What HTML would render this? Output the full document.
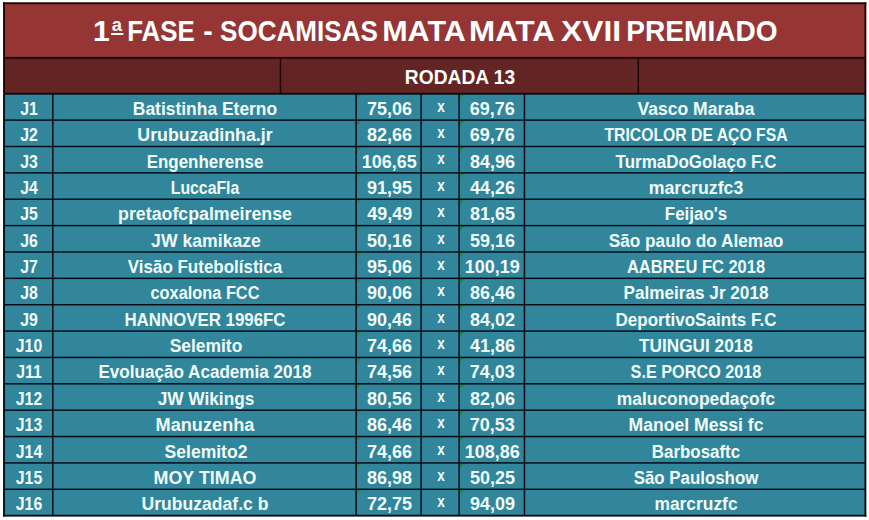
<!DOCTYPE html>
<html><head><meta charset="utf-8"><style>
html,body{margin:0;padding:0;background:#fff}
body{width:869px;height:520px;overflow:hidden;position:relative}
svg{position:absolute;left:0;top:0}
.ord{display:inline-block;font-size:18px;line-height:16px;vertical-align:10px;border-bottom:2px solid #fff;padding:0 1px 0 1px;margin-left:1px;margin-right:0px}
.t{position:absolute;white-space:nowrap;text-align:center;font-family:"Liberation Sans",sans-serif;font-weight:bold;color:#fff;transform-origin:50% 50%}
</style></head><body>
<svg width="869" height="520" viewBox="0 0 869 520">
<rect x="4.00" y="3.20" width="861.40" height="54.60" fill="#963634"/>
<rect x="4.00" y="57.80" width="861.40" height="35.95" fill="#632523"/>
<rect x="4.00" y="93.75" width="861.40" height="421.92" fill="#31869B"/>
<path d="M356.45 94.05 h5.5 L356.45 99.55 Z" fill="#1e8a3a" opacity="0.8"/>
<path d="M459.45 94.05 h5.5 L459.45 99.55 Z" fill="#1e8a3a" opacity="0.8"/>
<path d="M356.45 120.42 h5.5 L356.45 125.92 Z" fill="#1e8a3a" opacity="0.8"/>
<path d="M459.45 120.42 h5.5 L459.45 125.92 Z" fill="#1e8a3a" opacity="0.8"/>
<path d="M356.45 146.79 h5.5 L356.45 152.29 Z" fill="#1e8a3a" opacity="0.8"/>
<path d="M459.45 146.79 h5.5 L459.45 152.29 Z" fill="#1e8a3a" opacity="0.8"/>
<path d="M356.45 173.16 h5.5 L356.45 178.66 Z" fill="#1e8a3a" opacity="0.8"/>
<path d="M459.45 173.16 h5.5 L459.45 178.66 Z" fill="#1e8a3a" opacity="0.8"/>
<path d="M356.45 199.53 h5.5 L356.45 205.03 Z" fill="#1e8a3a" opacity="0.8"/>
<path d="M459.45 199.53 h5.5 L459.45 205.03 Z" fill="#1e8a3a" opacity="0.8"/>
<path d="M356.45 225.90 h5.5 L356.45 231.40 Z" fill="#1e8a3a" opacity="0.8"/>
<path d="M459.45 225.90 h5.5 L459.45 231.40 Z" fill="#1e8a3a" opacity="0.8"/>
<path d="M356.45 252.27 h5.5 L356.45 257.77 Z" fill="#1e8a3a" opacity="0.8"/>
<path d="M459.45 252.27 h5.5 L459.45 257.77 Z" fill="#1e8a3a" opacity="0.8"/>
<path d="M356.45 278.64 h5.5 L356.45 284.14 Z" fill="#1e8a3a" opacity="0.8"/>
<path d="M459.45 278.64 h5.5 L459.45 284.14 Z" fill="#1e8a3a" opacity="0.8"/>
<path d="M356.45 305.01 h5.5 L356.45 310.51 Z" fill="#1e8a3a" opacity="0.8"/>
<path d="M459.45 305.01 h5.5 L459.45 310.51 Z" fill="#1e8a3a" opacity="0.8"/>
<path d="M356.45 331.38 h5.5 L356.45 336.88 Z" fill="#1e8a3a" opacity="0.8"/>
<path d="M459.45 331.38 h5.5 L459.45 336.88 Z" fill="#1e8a3a" opacity="0.8"/>
<path d="M356.45 357.75 h5.5 L356.45 363.25 Z" fill="#1e8a3a" opacity="0.8"/>
<path d="M459.45 357.75 h5.5 L459.45 363.25 Z" fill="#1e8a3a" opacity="0.8"/>
<path d="M356.45 384.12 h5.5 L356.45 389.62 Z" fill="#1e8a3a" opacity="0.8"/>
<path d="M459.45 384.12 h5.5 L459.45 389.62 Z" fill="#1e8a3a" opacity="0.8"/>
<path d="M356.45 410.49 h5.5 L356.45 415.99 Z" fill="#1e8a3a" opacity="0.8"/>
<path d="M459.45 410.49 h5.5 L459.45 415.99 Z" fill="#1e8a3a" opacity="0.8"/>
<path d="M356.45 436.86 h5.5 L356.45 442.36 Z" fill="#1e8a3a" opacity="0.8"/>
<path d="M459.45 436.86 h5.5 L459.45 442.36 Z" fill="#1e8a3a" opacity="0.8"/>
<path d="M356.45 463.23 h5.5 L356.45 468.73 Z" fill="#1e8a3a" opacity="0.8"/>
<path d="M459.45 463.23 h5.5 L459.45 468.73 Z" fill="#1e8a3a" opacity="0.8"/>
<path d="M356.45 489.60 h5.5 L356.45 495.10 Z" fill="#1e8a3a" opacity="0.8"/>
<path d="M459.45 489.60 h5.5 L459.45 495.10 Z" fill="#1e8a3a" opacity="0.8"/>
<rect x="4.00" y="119.40" width="861.40" height="1.45" fill="#020a14"/>
<rect x="4.00" y="145.77" width="861.40" height="1.45" fill="#020a14"/>
<rect x="4.00" y="172.14" width="861.40" height="1.45" fill="#020a14"/>
<rect x="4.00" y="198.51" width="861.40" height="1.45" fill="#020a14"/>
<rect x="4.00" y="224.88" width="861.40" height="1.45" fill="#020a14"/>
<rect x="4.00" y="251.25" width="861.40" height="1.45" fill="#020a14"/>
<rect x="4.00" y="277.62" width="861.40" height="1.45" fill="#020a14"/>
<rect x="4.00" y="303.99" width="861.40" height="1.45" fill="#020a14"/>
<rect x="4.00" y="330.36" width="861.40" height="1.45" fill="#020a14"/>
<rect x="4.00" y="356.72" width="861.40" height="1.45" fill="#020a14"/>
<rect x="4.00" y="383.09" width="861.40" height="1.45" fill="#020a14"/>
<rect x="4.00" y="409.46" width="861.40" height="1.45" fill="#020a14"/>
<rect x="4.00" y="435.83" width="861.40" height="1.45" fill="#020a14"/>
<rect x="4.00" y="462.20" width="861.40" height="1.45" fill="#020a14"/>
<rect x="4.00" y="488.57" width="861.40" height="1.45" fill="#020a14"/>
<rect x="4.00" y="92.85" width="861.40" height="1.80" fill="#020a14"/>
<rect x="4.00" y="56.90" width="861.40" height="1.80" fill="#1c0304"/>
<rect x="52.07" y="93.75" width="1.45" height="421.92" fill="#020a14"/>
<rect x="355.42" y="93.75" width="1.45" height="421.92" fill="#020a14"/>
<rect x="420.42" y="93.75" width="1.45" height="421.92" fill="#020a14"/>
<rect x="458.42" y="93.75" width="1.45" height="421.92" fill="#020a14"/>
<rect x="523.73" y="93.75" width="1.45" height="421.92" fill="#020a14"/>
<rect x="279.77" y="57.80" width="1.45" height="35.95" fill="#1c0304"/>
<rect x="637.57" y="57.80" width="1.45" height="35.95" fill="#1c0304"/>
<rect x="3.08" y="2.28" width="863.25" height="1.85" fill="#1c0304"/>
<rect x="3.08" y="2.28" width="1.85" height="91.47" fill="#1c0304"/>
<rect x="864.48" y="2.28" width="1.85" height="91.47" fill="#1c0304"/>
<rect x="3.08" y="93.75" width="1.85" height="422.85" fill="#020a14"/>
<rect x="864.48" y="93.75" width="1.85" height="422.85" fill="#020a14"/>
<rect x="3.08" y="514.75" width="863.25" height="1.85" fill="#020a14"/>
</svg>
<div class="t" style="left:-392.00px;top:16.03px;width:1000px;font-size:29.5px;line-height:29.5px;transform:scaleX(1.0222)">1<span class="ord">a</span></div>
<div class="t" style="left:-339.26px;top:16.03px;width:1000px;font-size:29.5px;line-height:29.5px;transform:scaleX(0.877)">FASE</div>
<div class="t" style="left:-292.43px;top:16.03px;width:1000px;font-size:29.5px;line-height:29.5px;transform:scaleX(0.9625)">-</div>
<div class="t" style="left:-200.70px;top:16.03px;width:1000px;font-size:29.5px;line-height:29.5px;transform:scaleX(0.8842)">SOCAMISAS</div>
<div class="t" style="left:-76.26px;top:16.03px;width:1000px;font-size:29.5px;line-height:29.5px;transform:scaleX(1.0346)">MATA</div>
<div class="t" style="left:12.38px;top:16.03px;width:1000px;font-size:29.5px;line-height:29.5px;transform:scaleX(1.0615)">MATA</div>
<div class="t" style="left:90.50px;top:16.03px;width:1000px;font-size:29.5px;line-height:29.5px;transform:scaleX(1.0792)">XVII</div>
<div class="t" style="left:201.52px;top:16.03px;width:1000px;font-size:29.5px;line-height:29.5px;transform:scaleX(0.9513)">PREMIADO</div>
<div class="t" style="left:-40.15px;top:68.09px;width:1000px;font-size:19.5px;line-height:19.5px;transform:scaleX(0.985)">RODADA 13</div>
<div class="t" style="left:-471.18px;top:99.78px;width:1000px;font-size:18.0px;line-height:18.0px;transform:scaleX(0.88);color:#f0fcfc">J1</div>
<div class="t" style="left:-294.73px;top:99.78px;width:1000px;font-size:18.0px;line-height:18.0px;transform:scaleX(0.9687);color:#f0fcfc">Batistinha Eterno</div>
<div class="t" style="left:-110.60px;top:99.78px;width:1000px;font-size:18.0px;line-height:18.0px;transform:scaleX(1.0);color:#f0fcfc">75,06</div>
<div class="t" style="left:-7.70px;top:99.78px;width:1000px;font-size:18.0px;line-height:18.0px;transform:scaleX(1.0);color:#f0fcfc">69,76</div>
<div class="t" style="left:195.69px;top:99.78px;width:1000px;font-size:18.0px;line-height:18.0px;transform:scaleX(0.975);color:#f0fcfc">Vasco Maraba</div>
<div class="t" style="left:-59.30px;top:97.75px;width:1000px;font-size:16.5px;line-height:16.5px;transform:scaleX(0.82);color:#f0fcfc">x</div>
<div class="t" style="left:-471.07px;top:126.15px;width:1000px;font-size:18.0px;line-height:18.0px;transform:scaleX(0.88);color:#f0fcfc">J2</div>
<div class="t" style="left:-294.87px;top:126.15px;width:1000px;font-size:18.0px;line-height:18.0px;transform:scaleX(0.9871);color:#f0fcfc">Urubuzadinha.jr</div>
<div class="t" style="left:-110.48px;top:126.15px;width:1000px;font-size:18.0px;line-height:18.0px;transform:scaleX(1.0);color:#f0fcfc">82,66</div>
<div class="t" style="left:-7.70px;top:126.15px;width:1000px;font-size:18.0px;line-height:18.0px;transform:scaleX(1.0);color:#f0fcfc">69,76</div>
<div class="t" style="left:196.05px;top:126.15px;width:1000px;font-size:18.0px;line-height:18.0px;transform:scaleX(0.8748);color:#f0fcfc">TRICOLOR DE AÇO FSA</div>
<div class="t" style="left:-59.30px;top:124.12px;width:1000px;font-size:16.5px;line-height:16.5px;transform:scaleX(0.82);color:#f0fcfc">x</div>
<div class="t" style="left:-471.07px;top:152.52px;width:1000px;font-size:18.0px;line-height:18.0px;transform:scaleX(0.88);color:#f0fcfc">J3</div>
<div class="t" style="left:-294.83px;top:152.52px;width:1000px;font-size:18.0px;line-height:18.0px;transform:scaleX(0.9407);color:#f0fcfc">Engenherense</div>
<div class="t" style="left:-110.72px;top:152.52px;width:1000px;font-size:18.0px;line-height:18.0px;transform:scaleX(1.0);color:#f0fcfc">106,65</div>
<div class="t" style="left:-7.58px;top:152.52px;width:1000px;font-size:18.0px;line-height:18.0px;transform:scaleX(1.0);color:#f0fcfc">84,96</div>
<div class="t" style="left:195.99px;top:152.52px;width:1000px;font-size:18.0px;line-height:18.0px;transform:scaleX(0.9424);color:#f0fcfc">TurmaDoGolaço F.C</div>
<div class="t" style="left:-59.30px;top:150.49px;width:1000px;font-size:16.5px;line-height:16.5px;transform:scaleX(0.82);color:#f0fcfc">x</div>
<div class="t" style="left:-471.40px;top:178.89px;width:1000px;font-size:18.0px;line-height:18.0px;transform:scaleX(0.88);color:#f0fcfc">J4</div>
<div class="t" style="left:-295.14px;top:178.89px;width:1000px;font-size:18.0px;line-height:18.0px;transform:scaleX(0.8782);color:#f0fcfc">LuccaFla</div>
<div class="t" style="left:-110.48px;top:178.89px;width:1000px;font-size:18.0px;line-height:18.0px;transform:scaleX(1.0);color:#f0fcfc">91,95</div>
<div class="t" style="left:-7.45px;top:178.89px;width:1000px;font-size:18.0px;line-height:18.0px;transform:scaleX(1.0);color:#f0fcfc">44,26</div>
<div class="t" style="left:195.55px;top:178.89px;width:1000px;font-size:18.0px;line-height:18.0px;transform:scaleX(0.9846);color:#f0fcfc">marcruzfc3</div>
<div class="t" style="left:-59.30px;top:176.86px;width:1000px;font-size:16.5px;line-height:16.5px;transform:scaleX(0.82);color:#f0fcfc">x</div>
<div class="t" style="left:-471.18px;top:205.26px;width:1000px;font-size:18.0px;line-height:18.0px;transform:scaleX(0.88);color:#f0fcfc">J5</div>
<div class="t" style="left:-294.83px;top:205.26px;width:1000px;font-size:18.0px;line-height:18.0px;transform:scaleX(0.9871);color:#f0fcfc">pretaofcpalmeirense</div>
<div class="t" style="left:-110.35px;top:205.26px;width:1000px;font-size:18.0px;line-height:18.0px;transform:scaleX(1.0);color:#f0fcfc">49,49</div>
<div class="t" style="left:-7.58px;top:205.26px;width:1000px;font-size:18.0px;line-height:18.0px;transform:scaleX(1.0);color:#f0fcfc">81,65</div>
<div class="t" style="left:195.69px;top:205.26px;width:1000px;font-size:18.0px;line-height:18.0px;transform:scaleX(0.9401);color:#f0fcfc">Feijao's</div>
<div class="t" style="left:-59.30px;top:203.23px;width:1000px;font-size:16.5px;line-height:16.5px;transform:scaleX(0.82);color:#f0fcfc">x</div>
<div class="t" style="left:-471.07px;top:231.63px;width:1000px;font-size:18.0px;line-height:18.0px;transform:scaleX(0.88);color:#f0fcfc">J6</div>
<div class="t" style="left:-294.35px;top:231.63px;width:1000px;font-size:18.0px;line-height:18.0px;transform:scaleX(0.9798);color:#f0fcfc">JW kamikaze</div>
<div class="t" style="left:-110.48px;top:231.63px;width:1000px;font-size:18.0px;line-height:18.0px;transform:scaleX(1.0);color:#f0fcfc">50,16</div>
<div class="t" style="left:-7.58px;top:231.63px;width:1000px;font-size:18.0px;line-height:18.0px;transform:scaleX(1.0);color:#f0fcfc">59,16</div>
<div class="t" style="left:195.95px;top:231.63px;width:1000px;font-size:18.0px;line-height:18.0px;transform:scaleX(0.9578);color:#f0fcfc">São paulo do Alemao</div>
<div class="t" style="left:-59.30px;top:229.60px;width:1000px;font-size:16.5px;line-height:16.5px;transform:scaleX(0.82);color:#f0fcfc">x</div>
<div class="t" style="left:-471.07px;top:258.00px;width:1000px;font-size:18.0px;line-height:18.0px;transform:scaleX(0.88);color:#f0fcfc">J7</div>
<div class="t" style="left:-294.63px;top:258.00px;width:1000px;font-size:18.0px;line-height:18.0px;transform:scaleX(0.9431);color:#f0fcfc">Visão Futebolística</div>
<div class="t" style="left:-110.48px;top:258.00px;width:1000px;font-size:18.0px;line-height:18.0px;transform:scaleX(1.0);color:#f0fcfc">95,06</div>
<div class="t" style="left:-7.82px;top:258.00px;width:1000px;font-size:18.0px;line-height:18.0px;transform:scaleX(1.0);color:#f0fcfc">100,19</div>
<div class="t" style="left:195.92px;top:258.00px;width:1000px;font-size:18.0px;line-height:18.0px;transform:scaleX(0.9147);color:#f0fcfc">AABREU FC 2018</div>
<div class="t" style="left:-59.30px;top:255.97px;width:1000px;font-size:16.5px;line-height:16.5px;transform:scaleX(0.82);color:#f0fcfc">x</div>
<div class="t" style="left:-471.18px;top:284.37px;width:1000px;font-size:18.0px;line-height:18.0px;transform:scaleX(0.88);color:#f0fcfc">J8</div>
<div class="t" style="left:-294.60px;top:284.37px;width:1000px;font-size:18.0px;line-height:18.0px;transform:scaleX(0.9078);color:#f0fcfc">coxalona FCC</div>
<div class="t" style="left:-110.48px;top:284.37px;width:1000px;font-size:18.0px;line-height:18.0px;transform:scaleX(1.0);color:#f0fcfc">90,06</div>
<div class="t" style="left:-7.58px;top:284.37px;width:1000px;font-size:18.0px;line-height:18.0px;transform:scaleX(1.0);color:#f0fcfc">86,46</div>
<div class="t" style="left:195.60px;top:284.37px;width:1000px;font-size:18.0px;line-height:18.0px;transform:scaleX(0.9531);color:#f0fcfc">Palmeiras Jr 2018</div>
<div class="t" style="left:-59.30px;top:282.34px;width:1000px;font-size:16.5px;line-height:16.5px;transform:scaleX(0.82);color:#f0fcfc">x</div>
<div class="t" style="left:-471.07px;top:310.74px;width:1000px;font-size:18.0px;line-height:18.0px;transform:scaleX(0.88);color:#f0fcfc">J9</div>
<div class="t" style="left:-294.83px;top:310.74px;width:1000px;font-size:18.0px;line-height:18.0px;transform:scaleX(0.9363);color:#f0fcfc">HANNOVER 1996FC</div>
<div class="t" style="left:-110.48px;top:310.74px;width:1000px;font-size:18.0px;line-height:18.0px;transform:scaleX(1.0);color:#f0fcfc">90,46</div>
<div class="t" style="left:-7.45px;top:310.74px;width:1000px;font-size:18.0px;line-height:18.0px;transform:scaleX(1.0);color:#f0fcfc">84,02</div>
<div class="t" style="left:195.56px;top:310.74px;width:1000px;font-size:18.0px;line-height:18.0px;transform:scaleX(0.9474);color:#f0fcfc">DeportivoSaints F.C</div>
<div class="t" style="left:-59.30px;top:308.71px;width:1000px;font-size:16.5px;line-height:16.5px;transform:scaleX(0.82);color:#f0fcfc">x</div>
<div class="t" style="left:-471.06px;top:337.11px;width:1000px;font-size:18.0px;line-height:18.0px;transform:scaleX(0.88);color:#f0fcfc">J10</div>
<div class="t" style="left:-294.37px;top:337.11px;width:1000px;font-size:18.0px;line-height:18.0px;transform:scaleX(0.9681);color:#f0fcfc">Selemito</div>
<div class="t" style="left:-110.60px;top:337.11px;width:1000px;font-size:18.0px;line-height:18.0px;transform:scaleX(1.0);color:#f0fcfc">74,66</div>
<div class="t" style="left:-7.45px;top:337.11px;width:1000px;font-size:18.0px;line-height:18.0px;transform:scaleX(1.0);color:#f0fcfc">41,86</div>
<div class="t" style="left:196.04px;top:337.11px;width:1000px;font-size:18.0px;line-height:18.0px;transform:scaleX(0.9556);color:#f0fcfc">TUINGUI 2018</div>
<div class="t" style="left:-59.30px;top:335.08px;width:1000px;font-size:16.5px;line-height:16.5px;transform:scaleX(0.82);color:#f0fcfc">x</div>
<div class="t" style="left:-471.17px;top:363.48px;width:1000px;font-size:18.0px;line-height:18.0px;transform:scaleX(0.88);color:#f0fcfc">J11</div>
<div class="t" style="left:-294.88px;top:363.48px;width:1000px;font-size:18.0px;line-height:18.0px;transform:scaleX(0.9499);color:#f0fcfc">Evoluação Academia 2018</div>
<div class="t" style="left:-110.60px;top:363.48px;width:1000px;font-size:18.0px;line-height:18.0px;transform:scaleX(1.0);color:#f0fcfc">74,56</div>
<div class="t" style="left:-7.70px;top:363.48px;width:1000px;font-size:18.0px;line-height:18.0px;transform:scaleX(1.0);color:#f0fcfc">74,03</div>
<div class="t" style="left:195.93px;top:363.48px;width:1000px;font-size:18.0px;line-height:18.0px;transform:scaleX(0.9014);color:#f0fcfc">S.E PORCO 2018</div>
<div class="t" style="left:-59.30px;top:361.45px;width:1000px;font-size:16.5px;line-height:16.5px;transform:scaleX(0.82);color:#f0fcfc">x</div>
<div class="t" style="left:-471.06px;top:389.85px;width:1000px;font-size:18.0px;line-height:18.0px;transform:scaleX(0.88);color:#f0fcfc">J12</div>
<div class="t" style="left:-294.21px;top:389.85px;width:1000px;font-size:18.0px;line-height:18.0px;transform:scaleX(0.9584);color:#f0fcfc">JW Wikings</div>
<div class="t" style="left:-110.48px;top:389.85px;width:1000px;font-size:18.0px;line-height:18.0px;transform:scaleX(1.0);color:#f0fcfc">80,56</div>
<div class="t" style="left:-7.58px;top:389.85px;width:1000px;font-size:18.0px;line-height:18.0px;transform:scaleX(1.0);color:#f0fcfc">82,06</div>
<div class="t" style="left:195.55px;top:389.85px;width:1000px;font-size:18.0px;line-height:18.0px;transform:scaleX(0.9652);color:#f0fcfc">maluconopedaçofc</div>
<div class="t" style="left:-59.30px;top:387.82px;width:1000px;font-size:16.5px;line-height:16.5px;transform:scaleX(0.82);color:#f0fcfc">x</div>
<div class="t" style="left:-471.06px;top:416.22px;width:1000px;font-size:18.0px;line-height:18.0px;transform:scaleX(0.88);color:#f0fcfc">J13</div>
<div class="t" style="left:-295.25px;top:416.22px;width:1000px;font-size:18.0px;line-height:18.0px;transform:scaleX(1.0088);color:#f0fcfc">Manuzenha</div>
<div class="t" style="left:-110.48px;top:416.22px;width:1000px;font-size:18.0px;line-height:18.0px;transform:scaleX(1.0);color:#f0fcfc">86,46</div>
<div class="t" style="left:-7.70px;top:416.22px;width:1000px;font-size:18.0px;line-height:18.0px;transform:scaleX(1.0);color:#f0fcfc">70,53</div>
<div class="t" style="left:195.55px;top:416.22px;width:1000px;font-size:18.0px;line-height:18.0px;transform:scaleX(0.9776);color:#f0fcfc">Manoel Messi fc</div>
<div class="t" style="left:-59.30px;top:414.19px;width:1000px;font-size:16.5px;line-height:16.5px;transform:scaleX(0.82);color:#f0fcfc">x</div>
<div class="t" style="left:-471.39px;top:442.59px;width:1000px;font-size:18.0px;line-height:18.0px;transform:scaleX(0.88);color:#f0fcfc">J14</div>
<div class="t" style="left:-294.36px;top:442.59px;width:1000px;font-size:18.0px;line-height:18.0px;transform:scaleX(0.9743);color:#f0fcfc">Selemito2</div>
<div class="t" style="left:-110.60px;top:442.59px;width:1000px;font-size:18.0px;line-height:18.0px;transform:scaleX(1.0);color:#f0fcfc">74,66</div>
<div class="t" style="left:-7.82px;top:442.59px;width:1000px;font-size:18.0px;line-height:18.0px;transform:scaleX(1.0);color:#f0fcfc">108,86</div>
<div class="t" style="left:195.56px;top:442.59px;width:1000px;font-size:18.0px;line-height:18.0px;transform:scaleX(0.9388);color:#f0fcfc">Barbosaftc</div>
<div class="t" style="left:-59.30px;top:440.56px;width:1000px;font-size:16.5px;line-height:16.5px;transform:scaleX(0.82);color:#f0fcfc">x</div>
<div class="t" style="left:-471.17px;top:468.96px;width:1000px;font-size:18.0px;line-height:18.0px;transform:scaleX(0.88);color:#f0fcfc">J15</div>
<div class="t" style="left:-294.79px;top:468.96px;width:1000px;font-size:18.0px;line-height:18.0px;transform:scaleX(0.9926);color:#f0fcfc">MOY TIMAO</div>
<div class="t" style="left:-110.48px;top:468.96px;width:1000px;font-size:18.0px;line-height:18.0px;transform:scaleX(1.0);color:#f0fcfc">86,98</div>
<div class="t" style="left:-7.58px;top:468.96px;width:1000px;font-size:18.0px;line-height:18.0px;transform:scaleX(1.0);color:#f0fcfc">50,25</div>
<div class="t" style="left:195.68px;top:468.96px;width:1000px;font-size:18.0px;line-height:18.0px;transform:scaleX(0.9374);color:#f0fcfc">São Pauloshow</div>
<div class="t" style="left:-59.30px;top:466.93px;width:1000px;font-size:16.5px;line-height:16.5px;transform:scaleX(0.82);color:#f0fcfc">x</div>
<div class="t" style="left:-471.06px;top:495.33px;width:1000px;font-size:18.0px;line-height:18.0px;transform:scaleX(0.88);color:#f0fcfc">J16</div>
<div class="t" style="left:-294.62px;top:495.33px;width:1000px;font-size:18.0px;line-height:18.0px;transform:scaleX(0.9762);color:#f0fcfc">Urubuzadaf.c b</div>
<div class="t" style="left:-110.60px;top:495.33px;width:1000px;font-size:18.0px;line-height:18.0px;transform:scaleX(1.0);color:#f0fcfc">72,75</div>
<div class="t" style="left:-7.58px;top:495.33px;width:1000px;font-size:18.0px;line-height:18.0px;transform:scaleX(1.0);color:#f0fcfc">94,09</div>
<div class="t" style="left:195.56px;top:495.33px;width:1000px;font-size:18.0px;line-height:18.0px;transform:scaleX(0.9662);color:#f0fcfc">marcruzfc</div>
<div class="t" style="left:-59.30px;top:493.30px;width:1000px;font-size:16.5px;line-height:16.5px;transform:scaleX(0.82);color:#f0fcfc">x</div>
</body></html>
